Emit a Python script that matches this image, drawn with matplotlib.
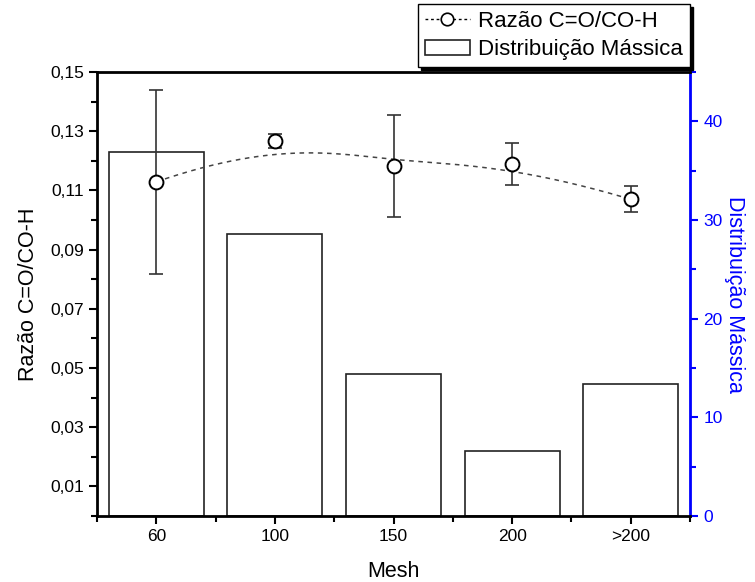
"""Razão C=O/CO-H e distribuição mássica por faixa de mesh."""
import numpy as np
import matplotlib
matplotlib.use("Agg")
import matplotlib.pyplot as plt
from matplotlib.ticker import FixedLocator, FuncFormatter

plt.rcParams["font.family"] = ["Liberation Sans", "DejaVu Sans"]

# data
mesh = ["60", "100", "150", "200", ">200"]
razao = [0.1129, 0.1267, 0.1182, 0.1189, 0.1070]
razao_err = [0.0310, 0.0025, 0.0172, 0.0072, 0.0044]
distribuicao = [36.9, 28.6, 14.4, 6.6, 13.4]


def bspline(px, py, n=300):
    """Clamped cubic B-spline using the data points as control points."""
    k = 3
    m = len(px)
    inner = np.arange(1, m - k)
    knots = np.concatenate([np.zeros(k + 1), inner, np.full(k + 1, m - k)])
    t = np.linspace(0, m - k, n)
    t[-1] -= 1e-9

    def basis(i, p, tt):
        if p == 0:
            return ((knots[i] <= tt) & (tt < knots[i + 1])).astype(float)
        out = np.zeros_like(tt)
        d1 = knots[i + p] - knots[i]
        d2 = knots[i + p + 1] - knots[i + 1]
        if d1 > 0:
            out += (tt - knots[i]) / d1 * basis(i, p - 1, tt)
        if d2 > 0:
            out += (knots[i + p + 1] - tt) / d2 * basis(i + 1, p - 1, tt)
        return out

    B = np.array([basis(i, k, t) for i in range(m)])
    return B.T @ np.asarray(px, float), B.T @ np.asarray(py, float)


x = np.arange(len(mesh))

fig = plt.figure(figsize=(7.55, 5.82), dpi=100)
ax1 = fig.add_axes([97 / 755, 66 / 582, 593 / 755, 444 / 582])
ax2 = ax1.twinx()
ax1.set_zorder(ax2.get_zorder() + 1)
ax1.patch.set_visible(False)

bars = ax2.bar(x, distribuicao, width=0.8, facecolor="white",
               edgecolor="#222222", linewidth=1.2,
               label="Distribuição Mássica")

sx, sy = bspline(x, razao)
ax1.plot(sx, sy, linestyle=(0, (3, 3)), color="#444444", linewidth=1.1)
ax1.errorbar(x, razao, yerr=razao_err, fmt="none", ecolor="#333333",
             elinewidth=1.2, capsize=5, capthick=1.2)
ax1.plot(x, razao, "o", markersize=10, markerfacecolor="white",
         markeredgecolor="black", markeredgewidth=1.4)
line_handle, = ax1.plot([], [], linestyle=(0, (2, 2)), color="black",
                        linewidth=1, marker="o", markersize=9,
                        markerfacecolor="white", markeredgecolor="black",
                        markeredgewidth=1.2, label="Razão C=O/CO-H")

ax1.set_xlim(-0.5, 4.5)
ax1.set_ylim(0, 0.15)
ax2.set_ylim(0, 45)

ax1.xaxis.set_major_locator(FixedLocator(x))
ax1.xaxis.set_minor_locator(FixedLocator(np.arange(-0.5, 5, 1.0)))
ax1.set_xticklabels(mesh)
ax1.yaxis.set_major_locator(FixedLocator(np.arange(0.01, 0.16, 0.02)))
ax1.yaxis.set_minor_locator(FixedLocator(np.arange(0.0, 0.15, 0.02)))
ax1.yaxis.set_major_formatter(
    FuncFormatter(lambda v, p: f"{v:.2f}".replace(".", ",")))
ax2.yaxis.set_major_locator(FixedLocator(np.arange(0, 41, 10)))
ax2.yaxis.set_minor_locator(FixedLocator(np.arange(5, 46, 10)))

ax1.tick_params(axis="both", which="major", direction="out", length=6,
                width=1.5, labelsize=12.5, top=False)
ax1.tick_params(axis="both", which="minor", direction="out", length=4,
                width=1.5, top=False)
ax2.tick_params(axis="y", which="major", colors="blue", direction="out",
                length=6, width=1.5, labelsize=12.5)
ax2.tick_params(axis="y", which="minor", colors="blue", direction="out",
                length=4, width=1.5)

for side in ("left", "bottom", "top"):
    ax1.spines[side].set_linewidth(2)
ax1.spines["right"].set_visible(False)
ax2.spines["left"].set_visible(False)
ax2.spines["bottom"].set_visible(False)
ax2.spines["top"].set_visible(False)
ax2.spines["right"].set_color("blue")
ax2.spines["right"].set_linewidth(2)

ax1.set_xlabel("Mesh", fontsize=15.5, labelpad=12)
ax1.set_ylabel("Razão C=O/CO-H", fontsize=15.5, labelpad=8)
ax2.set_ylabel("Distribuição Mássica", fontsize=15.5, color="blue",
               rotation=270, labelpad=16)

fig.legend(handles=[line_handle, bars], loc="upper right",
           bbox_to_anchor=(690 / 755, 1 - 4 / 582), fontsize=16,
           frameon=True, fancybox=False, edgecolor="black",
           shadow={"color": "black", "alpha": 1}, handlelength=2.0,
           handletextpad=0.4, borderpad=0.3, labelspacing=0.35,
           borderaxespad=0)

fig.savefig("out.png", dpi=100)
